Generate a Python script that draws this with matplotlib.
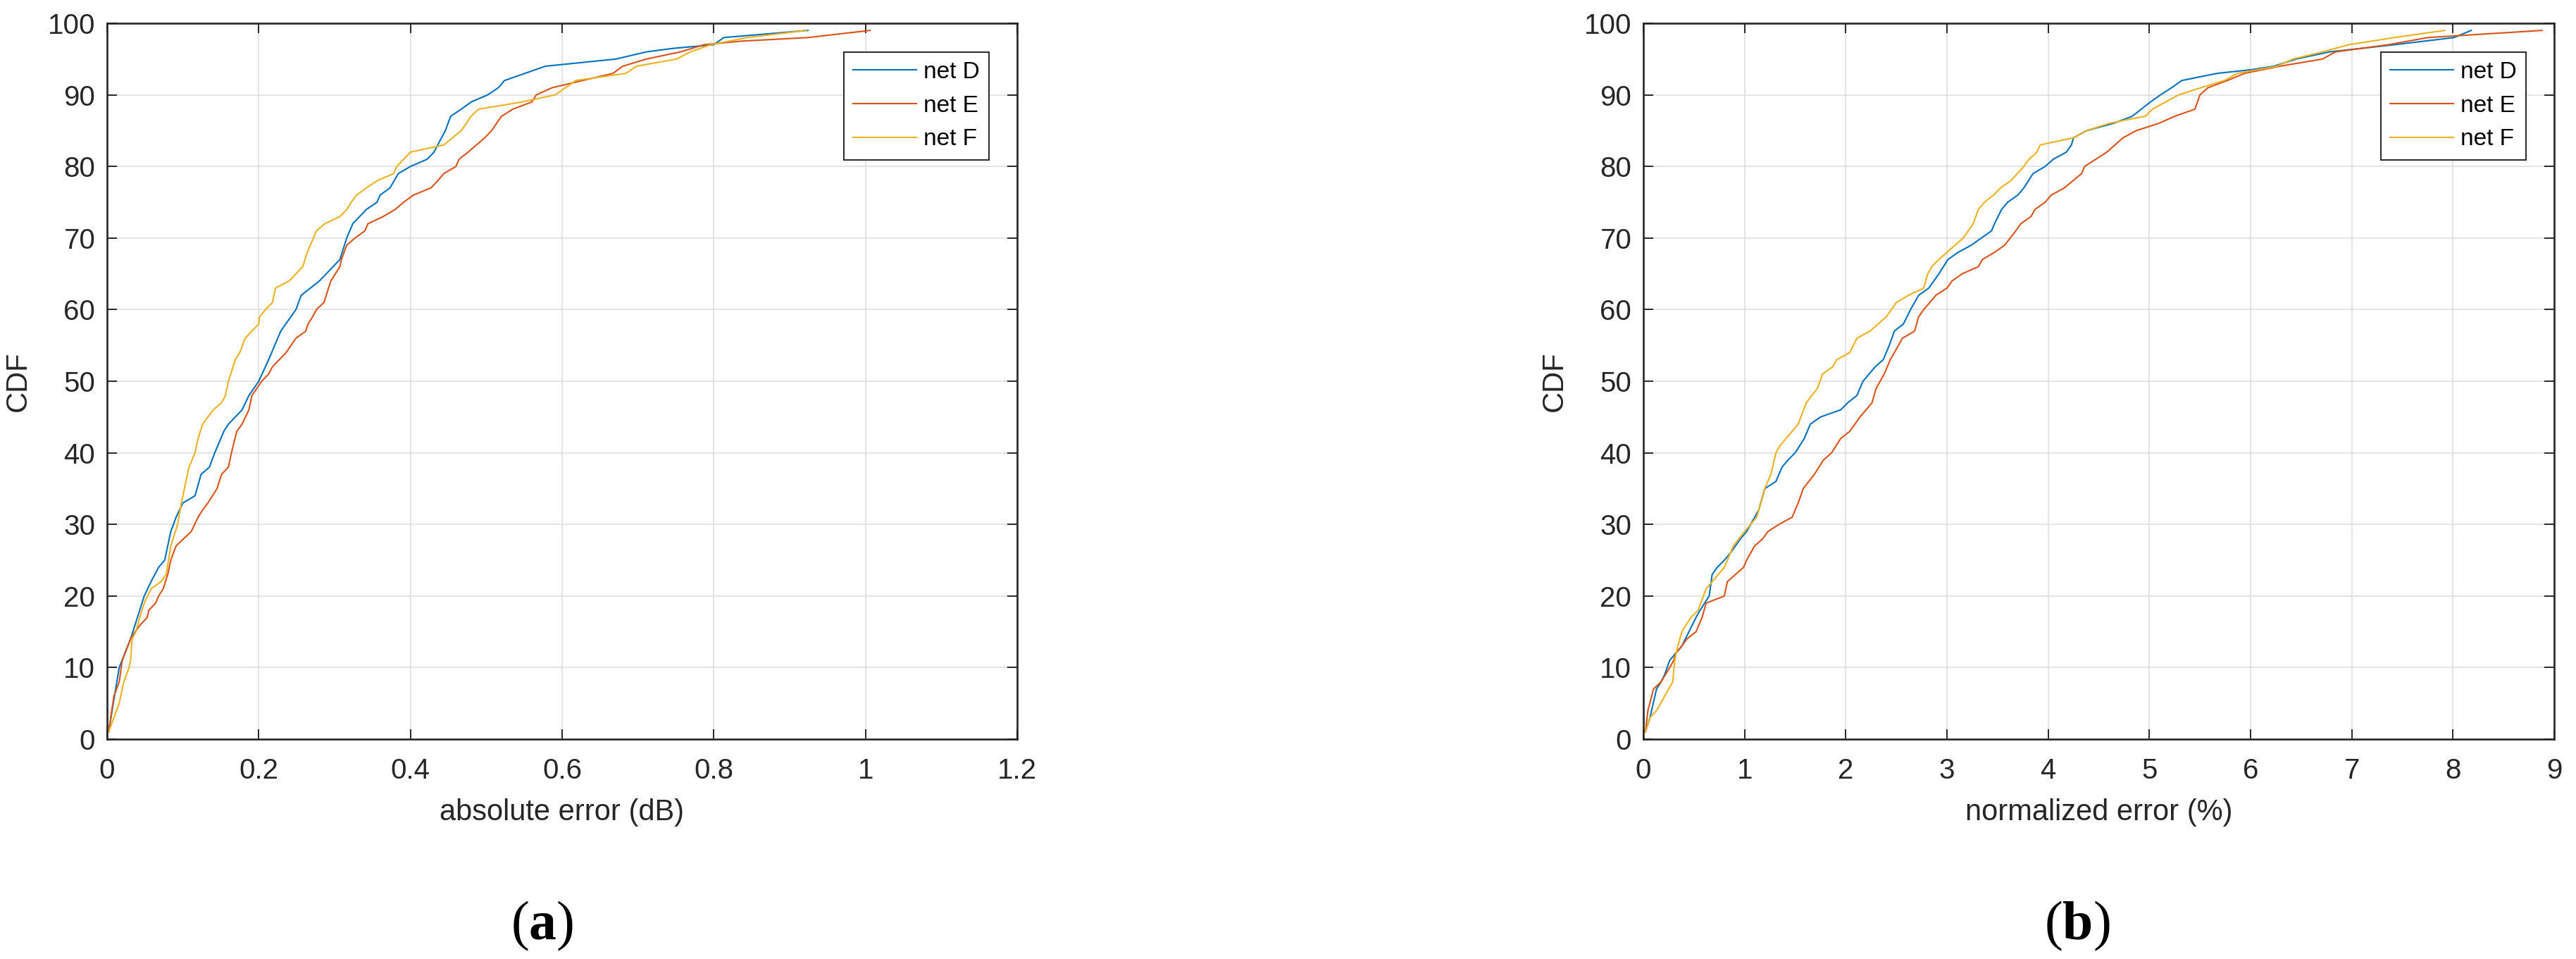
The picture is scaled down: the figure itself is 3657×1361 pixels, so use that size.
import matplotlib
matplotlib.use("Agg")
import matplotlib.pyplot as plt

plt.rcParams['font.family'] = ['Liberation Sans', 'DejaVu Sans']
plt.rcParams['mathtext.fontset'] = 'custom'
plt.rcParams['mathtext.rm'] = 'Liberation Serif'
plt.rcParams['mathtext.bf'] = 'Liberation Serif:bold'

# --- data (x value, CDF %) ---
series_names = ['net D', 'net E', 'net F']
series_colors = ['#0072BD', '#D95319', '#EDB120']

# (a) absolute error (dB)
abs_D_x = [0.002, 0.016, 0.031, 0.049, 0.058, 0.068, 0.076, 0.084, 0.091, 0.100, 0.116, 0.124,
           0.135, 0.142, 0.154, 0.160, 0.178, 0.187, 0.200, 0.213, 0.229, 0.249, 0.256, 0.280,
           0.289, 0.307, 0.316, 0.324, 0.342, 0.356, 0.360, 0.373, 0.384, 0.400, 0.422, 0.431,
           0.446, 0.453, 0.467, 0.480, 0.502, 0.516, 0.524, 0.551, 0.578, 0.671, 0.711, 0.747,
           0.800, 0.813, 0.924]
abs_D_y = [1, 10, 14, 20, 22, 24, 25, 29, 31, 33, 34, 37,
           38, 40, 43, 44, 46, 48, 50, 53, 57, 60, 62, 64,
           65, 67, 70, 72, 74, 75, 76, 77, 79, 80, 81, 82,
           85, 87, 88, 89, 90, 91, 92, 93, 94, 95, 96, 96.5,
           97, 98, 99]

abs_E_x = [0.002, 0.009, 0.016, 0.020, 0.031, 0.037, 0.044, 0.053, 0.055, 0.064, 0.068, 0.074,
           0.080, 0.084, 0.091, 0.111, 0.120, 0.126, 0.133, 0.145, 0.151, 0.160, 0.164, 0.171,
           0.178, 0.187, 0.191, 0.204, 0.213, 0.218, 0.227, 0.236, 0.249, 0.262, 0.265, 0.271,
           0.276, 0.286, 0.295, 0.307, 0.309, 0.316, 0.327, 0.340, 0.344, 0.364, 0.380, 0.391,
           0.404, 0.427, 0.436, 0.444, 0.460, 0.464, 0.476, 0.487, 0.498, 0.507, 0.520, 0.535,
           0.560, 0.566, 0.587, 0.627, 0.667, 0.680, 0.711, 0.756, 0.787, 0.836, 0.924, 1.006]
abs_E_y = [1, 6, 8, 11, 14, 15, 16, 17, 18, 19, 20, 21,
           23, 25, 27, 29, 31, 32, 33, 35, 37, 38, 40, 43,
           44, 46, 48, 50, 51, 52, 53, 54, 56, 57, 58, 59,
           60, 61, 64, 66, 67, 69, 70, 71, 72, 73, 74, 75,
           76, 77, 78, 79, 80, 81, 82, 83, 84, 85, 87, 88,
           89, 90, 91, 92, 93, 94, 95, 96, 97, 97.5, 98, 99]

abs_F_x = [0.002, 0.009, 0.016, 0.022, 0.029, 0.031, 0.033, 0.038, 0.043, 0.049, 0.058, 0.071,
           0.078, 0.084, 0.093, 0.098, 0.102, 0.108, 0.116, 0.120, 0.126, 0.140, 0.151, 0.156,
           0.160, 0.166, 0.169, 0.175, 0.182, 0.191, 0.200, 0.201, 0.209, 0.218, 0.222, 0.240,
           0.258, 0.264, 0.268, 0.276, 0.287, 0.307, 0.316, 0.322, 0.329, 0.342, 0.356, 0.378,
           0.382, 0.391, 0.400, 0.444, 0.467, 0.480, 0.490, 0.547, 0.591, 0.618, 0.684, 0.698,
           0.751, 0.769, 0.796, 0.844, 0.922]
abs_F_y = [1, 3, 5, 8, 10, 11, 14, 15, 17, 19, 21, 22,
           23, 27, 30, 33, 35, 38, 40, 42, 44, 46, 47, 48,
           50, 52, 53, 54, 56, 57, 58, 59, 60, 61, 63, 64,
           66, 68, 69, 71, 72, 73, 74, 75, 76, 77, 78, 79,
           80, 81, 82, 83, 85, 87, 88, 89, 90, 92, 93, 94,
           95, 96, 97, 98, 99]

# (b) normalized error (%)
norm_D_x = [0.02, 0.065, 0.13, 0.175, 0.21, 0.26, 0.32, 0.38, 0.45, 0.52, 0.56, 0.65,
            0.68, 0.73, 0.80, 0.86, 0.91, 0.96, 1.02, 1.10, 1.14, 1.20, 1.31, 1.37,
            1.43, 1.50, 1.59, 1.65, 1.75, 1.95, 2.02, 2.11, 2.17, 2.29, 2.37, 2.43,
            2.48, 2.57, 2.64, 2.72, 2.82, 2.92, 3.01, 3.11, 3.24, 3.34, 3.44, 3.47,
            3.54, 3.60, 3.70, 3.76, 3.85, 3.97, 4.05, 4.18, 4.23, 4.25, 4.38, 4.64,
            4.83, 4.92, 5.01, 5.11, 5.22, 5.32, 5.67, 6.00, 6.23, 6.45, 6.78, 7.42,
            8.01, 8.18]
norm_D_y = [1, 3, 7, 8, 9, 11, 12, 13, 15, 17, 18, 20,
            23, 24, 25, 26, 27, 28, 29, 31, 32, 35, 36, 38,
            39, 40, 42, 44, 45, 46, 47, 48, 50, 52, 53, 55,
            57, 58, 60, 62, 63, 65, 67, 68, 69, 70, 71, 72,
            74, 75, 76, 77, 79, 80, 81, 82, 83, 84, 85, 86,
            87, 88, 89, 90, 91, 92, 93, 93.5, 94, 95, 96, 97,
            98, 99]

norm_E_x = [0.02, 0.045, 0.10, 0.175, 0.26, 0.30, 0.32, 0.38, 0.43, 0.52, 0.58, 0.62,
            0.80, 0.83, 0.91, 0.99, 1.02, 1.10, 1.18, 1.23, 1.34, 1.47, 1.53, 1.58,
            1.69, 1.78, 1.86, 1.95, 2.04, 2.14, 2.20, 2.26, 2.30, 2.38, 2.44, 2.48,
            2.56, 2.68, 2.72, 2.77, 2.89, 3.00, 3.05, 3.15, 3.31, 3.35, 3.47, 3.57,
            3.68, 3.73, 3.83, 3.87, 3.97, 4.03, 4.16, 4.33, 4.36, 4.47, 4.58, 4.74,
            4.87, 5.09, 5.25, 5.45, 5.50, 5.58, 5.77, 5.94, 6.29, 6.71, 6.84, 7.36,
            7.75, 8.88]
norm_E_y = [1, 4, 7, 8, 10, 11, 12, 13, 14, 15, 17, 19,
            20, 22, 23, 24, 25, 27, 28, 29, 30, 31, 33, 35,
            37, 39, 40, 42, 43, 45, 46, 47, 49, 51, 53, 54,
            56, 57, 59, 60, 62, 63, 64, 65, 66, 67, 68, 69,
            71, 72, 73, 74, 75, 76, 77, 79, 80, 81, 82, 84,
            85, 86, 87, 88, 90, 91, 92, 93, 94, 95, 96, 97,
            98, 99]

norm_F_x = [0.02, 0.065, 0.13, 0.21, 0.29, 0.31, 0.34, 0.38, 0.47, 0.54, 0.62, 0.68,
            0.80, 0.89, 1.00, 1.12, 1.20, 1.26, 1.31, 1.35, 1.41, 1.53, 1.61, 1.72,
            1.77, 1.87, 1.91, 2.04, 2.11, 2.24, 2.32, 2.40, 2.50, 2.62, 2.77, 2.81,
            2.85, 2.92, 3.08, 3.16, 3.26, 3.31, 3.37, 3.46, 3.53, 3.63, 3.76, 3.81,
            3.89, 3.92, 4.25, 4.38, 4.60, 4.77, 4.96, 5.03, 5.16, 5.29, 5.51, 5.74,
            5.87, 6.26, 6.42, 6.71, 6.97, 7.42, 7.92]
norm_F_y = [1, 3, 4, 6, 8, 11, 13, 15, 17, 18, 21, 22,
            24, 27, 29, 31, 35, 37, 40, 41, 42, 44, 47, 49,
            51, 52, 53, 54, 56, 57, 58, 59, 61, 62, 63, 65,
            66, 67, 69, 70, 72, 74, 75, 76, 77, 78, 80, 81,
            82, 83, 84, 85, 86, 86.5, 87, 88, 89, 90, 91, 92,
            93, 94, 95, 96, 97, 98, 99]

y_ticks = list(range(0, 101, 10))
abs_x_ticks = [0, 0.2, 0.4, 0.6, 0.8, 1.0, 1.2]
abs_x_labels = ['0', '0.2', '0.4', '0.6', '0.8', '1', '1.2']
norm_x_ticks = list(range(0, 10))

panels = [
    dict(rect=[152 / 3657, 312 / 1361, 1292 / 3657, 1016 / 1361],
         series=[(abs_D_x, abs_D_y), (abs_E_x, abs_E_y), (abs_F_x, abs_F_y)],
         xlim=(0, 1.2), xticks=abs_x_ticks, xlabels=abs_x_labels,
         xlabel='absolute error (dB)', tag='a', tag_x=770 / 3657),
    dict(rect=[2333 / 3657, 312 / 1361, 1293 / 3657, 1016 / 1361],
         series=[(norm_D_x, norm_D_y), (norm_E_x, norm_E_y), (norm_F_x, norm_F_y)],
         xlim=(0, 9), xticks=norm_x_ticks, xlabels=[str(t) for t in norm_x_ticks],
         xlabel='normalized error (%)', tag='b', tag_x=2949 / 3657),
]

fig = plt.figure(figsize=(36.57, 13.61), dpi=100)
dark = '#262626'

for p in panels:
    ax = fig.add_axes(p['rect'])
    for (xs, ys), name, col in zip(p['series'], series_names, series_colors):
        ax.plot(xs, ys, color=col, lw=1.5, label=name)
    ax.set_xlim(*p['xlim'])
    ax.set_ylim(0, 100)
    ax.set_xticks(p['xticks'])
    ax.set_xticklabels(p['xlabels'])
    ax.set_yticks(y_ticks)
    ax.grid(True, color='#dcdcdc', lw=1.1)
    ax.set_axisbelow(True)
    ax.tick_params(direction='in', length=10, width=1.4, top=True, right=True,
                   labelsize=29, colors=dark, labelcolor=dark)
    ax.tick_params(axis='x', pad=19)
    ax.tick_params(axis='y', pad=12)
    for s in ax.spines.values():
        s.set_linewidth(1.9)
        s.set_color(dark)
    ax.set_xlabel(p['xlabel'], fontsize=30, color=dark, labelpad=14)
    ax.set_ylabel('CDF', fontsize=30, color=dark, labelpad=16)
    leg = ax.legend(loc='upper right', bbox_to_anchor=(0.969, 0.96), borderaxespad=0,
                    fontsize=24, handlelength=2.7, handletextpad=0.3, labelspacing=0.5,
                    borderpad=0.4, fancybox=False, framealpha=1, edgecolor=dark)
    leg.get_frame().set_linewidth(1.4)
    for t in leg.get_texts():
        t.set_color('black')
    # panel tag: roman parentheses around a bold letter
    fig.text(p['tag_x'], 1 - 1314 / 1361, '(' + r'$\mathbf{' + p['tag'] + '}$' + ')',
             fontsize=56, family='Liberation Serif', ha='center', va='center')

fig.savefig('out.png', dpi=100)
